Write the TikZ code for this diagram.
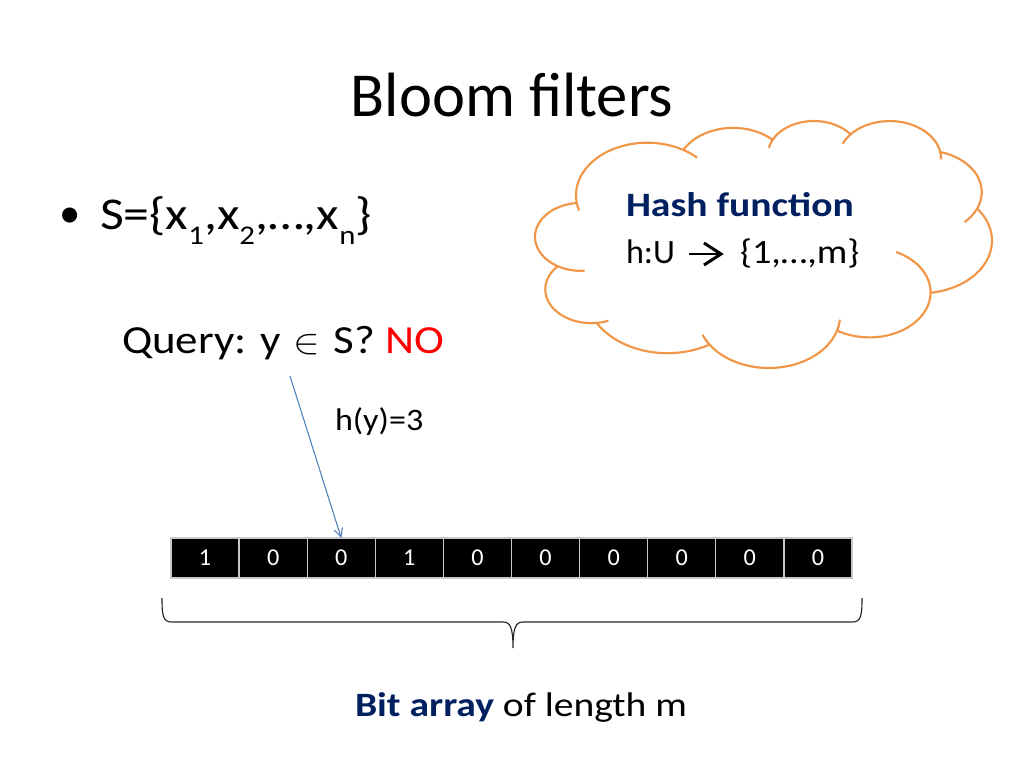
\documentclass[tikz,border=0pt]{standalone}
\usepackage{fontspec}
\usepackage{graphicx}
\setmainfont{Carlito}
\usetikzlibrary{arrows.meta,calc}
\definecolor{navy}{RGB}{0,32,96}
\definecolor{cloudorange}{RGB}{240,150,70}
\definecolor{arrowblue}{RGB}{79,129,189}
\definecolor{nored}{RGB}{255,0,0}
\definecolor{sepgray}{RGB}{200,200,200}
\newcommand{\mysub}[1]{\raisebox{-10pt}{\fontsize{19}{19}\selectfont #1}}
\tikzset{
  celltext/.style={fill=black, draw=sepgray, line width=0.9pt, text=white,
    minimum width=47.9pt, minimum height=28.1pt, inner sep=0pt,
    font=\fontsize{17}{20}\selectfont},
  cloudline/.style={draw=cloudorange, line width=1.5pt, line join=round},
  glypharrow/.style={line width=2.1pt, line join=miter, line cap=butt},
}
\begin{document}
\begin{tikzpicture}[x=0.703125pt,y=-0.703125pt,
  every node/.style={inner sep=0pt, outer sep=0pt}]
\useasboundingbox[fill=white] (0,0) rectangle (1024,768);

% title
\node[anchor=base, font=\fontsize{44}{53}\selectfont] (title) at (512,117) {Bloom filters};

% bullet
\node[font=\fontsize{30}{36}\selectfont, anchor=base] (dot) at (70.5,228) {•};
\node[anchor=base west, font=\fontsize{32}{38}\selectfont] (set) at (100,230)
  {\scalebox{1.14}[1]{S=\{x\mysub{1},x\mysub{2},…,x\mysub{n}\}}};

% query
\node[anchor=base west, font=\fontsize{28}{34}\selectfont] (query) at (122,353)
  {\scalebox{1.13}[1]{Query: y\hspace{2pt} $\in$\hspace{2pt} S? \textcolor{nored}{NO}}};
\node[anchor=base west, font=\fontsize{22}{26}\selectfont] (hy) at (335,430)
  {\scalebox{1.09}[1]{h(y)=3}};

% cloud (PowerPoint cloud geometry, path units / 100)
\begin{scope}[shift={(535.4,120.2)}, xscale=1.0565, yscale=0.5715]
\filldraw[cloudline, fill=white] (39.00,143.70)
 arc[start angle=172.25, end angle=300.36, x radius=67.53, y radius=91.90]
 arc[start angle=-152.02, end angle=-45.45, x radius=53.33, y radius=72.67]
 arc[start angle=-153.49, end angle=-37.33, x radius=43.65, y radius=59.45]
 arc[start angle=-139.71, end angle=-10.22, x radius=48.57, y radius=65.95]
 arc[start angle=-74.77, end angle=23.21, x radius=53.33, y radius=72.73]
 arc[start angle=-37.53, end angle=81.86, x radius=67.75, y radius=92.20]
 arc[start angle=0.46, end angle=121.98, x radius=57.85, y radius=78.67]
 arc[start angle=16.84, end angle=146.25, x radius=67.52, y radius=92.15]
 arc[start angle=58.98, end angle=150.18, x radius=77.20, y radius=105.43]
 arc[start angle=83.31, end angle=223.12, x radius=43.60, y radius=59.18]
 arc[start angle=120.36, end angle=264.11, x radius=43.45, y radius=59.45]
 -- cycle;
% inner arcs
\draw[cloudline] (21.141,255.449) arc[start angle=120.36, end angle=85.54, x radius=43.45, y radius=59.45];
\draw[cloudline] (58.035,354.694) arc[start angle=83.31, end angle=68.23, x radius=43.60, y radius=59.18];
\draw[cloudline] (164.795,392.618) arc[start angle=146.25, end angle=158.47, x radius=67.52, y radius=92.15];
\draw[cloudline] (285.562,368.116) arc[start angle=16.84, end angle=4.73, x radius=67.52, y radius=92.15];
\draw[cloudline] (374.047,302.020) arc[start angle=0.46, end angle=-64, x radius=57.85, y radius=78.67];
\draw[cloudline] (418.187,154.583) arc[start angle=23.21, end angle=46, x radius=53.33, y radius=72.73];
\draw[cloudline] (383.181,55.743) arc[start angle=-10.22, end angle=0.8, x radius=48.57, y radius=65.95];
\draw[cloudline] (298.333,24.800) arc[start angle=-139.71, end angle=-156.29, x radius=48.57, y radius=65.95];
\draw[cloudline] (224.556,34.312) arc[start angle=-153.49, end angle=-167.72, x radius=43.65, y radius=59.45];
\draw[cloudline] (140.049,52.014) arc[start angle=-59.64, end angle=-45.74, x radius=67.53, y radius=91.90];
\draw[cloudline] (39.00,143.70) arc[start angle=172.25, end angle=163.19, x radius=67.53, y radius=91.90];
\end{scope}

\node[anchor=base west, font=\fontsize{24}{29}\selectfont\bfseries, text=navy] (hash) at (626,217)
  {\scalebox{1.16}[1]{Hash function}};
\node[anchor=base west, font=\fontsize{24}{29}\selectfont] (hmap) at (626,264)
  {h:U};
\node[anchor=base west, font=\fontsize{24}{29}\selectfont] (range) at (740,264)
  {\scalebox{1.12}[1]{\{1,…,m\}}};
\coordinate (as) at (689,254);
\coordinate (at) at (721,254);
\draw[glypharrow] (as) -- (at);
\draw[glypharrow] ($(at)+(-17,-11)$) -- (at) -- ($(at)+(-17,11)$);

% bit array
\foreach \i/\b in {1/1,2/0,3/0,4/1,5/0,6/0,7/0,8/0,9/0,10/0} {
  \node[celltext] (c\i) at ({171+68.1*(\i-0.5)},558) {\b};
}

% query arrow
\coordinate (qs) at (290,376);
\draw[arrowblue, line width=0.75pt, -{Straight Barb[length=6pt,width=6pt]}] (qs) -- (c3.north);

% brace
\coordinate (bl) at (162,598);
\coordinate (bm) at (513,648);
\coordinate (br) at (862,598);
\draw[black!85, line width=0.8pt]
  (bl) .. controls (162,616) and (163,622) .. (172,622) -- (503,622)
  .. controls (510,622) and (513,627) .. (bm)
  .. controls (513,627) and (516,622) .. (523,622) -- (852,622)
  .. controls (861,622) and (862,616) .. (br);

\node[anchor=base west, font=\fontsize{24}{29}\selectfont] (bitarray) at (355,716)
  {\scalebox{1.16}[1]{\textcolor{navy}{\bfseries Bit array} of length m}};
\end{tikzpicture}
\end{document}
